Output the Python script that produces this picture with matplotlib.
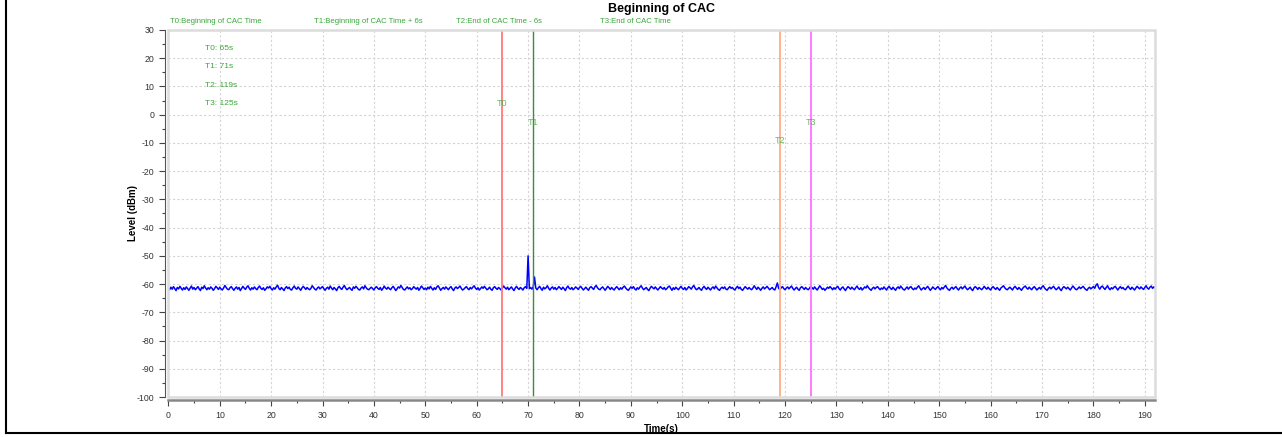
import numpy as np
import matplotlib
matplotlib.use('Agg')
import matplotlib.pyplot as plt
import matplotlib.transforms as mtransforms
from matplotlib.lines import Line2D
from matplotlib.patches import Rectangle

plt.rcParams['font.family'] = ['Liberation Sans', 'DejaVu Sans']
plt.rcParams['axes.unicode_minus'] = False

# level trace (dBm), one sample every 0.25 s, rows of 10 s
sample_step = 0.25
level = [
    -61.4, -62.0, -61.1, -61.8, -60.9, -61.6, -62.3, -61.2, -61.7, -60.8, -61.5, -62.1, -61.3, -61.9, -61.0, -61.6, -62.2, -61.4, -60.7, -61.8,
    -61.2, -62.0, -61.5, -60.9, -61.7, -62.3, -61.1, -61.6, -60.6, -61.4, -62.0, -61.3, -61.8, -61.0, -61.5, -62.2, -61.6, -60.8, -61.3, -61.9,
    -61.1, -61.7, -62.1, -61.4, -60.5, -61.2, -61.8, -62.0, -61.3, -60.9, -61.6, -62.2, -61.5, -61.0, -61.8, -61.2, -62.3, -61.6, -60.8, -61.4,
    -61.9, -61.1, -60.6, -61.5, -62.1, -61.3, -61.8, -61.0, -61.6, -62.0, -61.2, -60.7, -61.5, -61.9, -61.3, -62.2, -61.7, -61.0, -61.4, -60.8,
    -61.6, -62.1, -61.3, -61.8, -61.0, -60.4, -61.5, -62.0, -61.2, -61.7, -62.3, -61.4, -60.9, -61.6, -61.1, -61.9, -62.1, -61.3, -60.7, -61.5,
    -61.8, -61.0, -61.6, -62.2, -61.4, -60.8, -61.3, -61.9, -61.2, -61.7, -62.0, -61.5, -60.6, -61.2, -61.8, -62.1, -61.4, -61.0, -61.7, -61.3,
    -60.9, -61.6, -62.2, -61.5, -61.1, -61.8, -60.7, -61.4, -62.0, -61.2, -61.7, -62.3, -61.3, -60.8, -61.5, -61.9, -61.1, -60.5, -61.4, -62.0,
    -61.6, -61.2, -61.8, -62.2, -61.0, -61.5, -60.8, -61.3, -61.9, -62.1, -61.4, -61.0, -61.7, -60.6, -61.3, -61.8, -62.0, -61.5, -61.1, -61.6,
    -62.1, -61.3, -60.9, -61.5, -61.9, -61.2, -62.2, -61.6, -60.7, -61.4, -61.8, -61.1, -61.6, -62.0, -61.3, -60.8, -61.5, -62.3, -61.7, -61.0,
    -61.4, -60.5, -61.2, -61.9, -62.1, -61.5, -61.0, -61.7, -61.3, -62.0, -61.6, -60.9, -61.4, -61.8, -61.2, -62.2, -61.5, -60.7, -61.3, -61.9,
    -61.4, -62.0, -61.1, -61.7, -60.8, -61.5, -62.1, -61.3, -61.9, -61.0, -60.6, -61.4, -62.2, -61.6, -61.2, -61.8, -61.0, -61.5, -62.0, -61.3,
    -60.9, -61.7, -62.3, -61.4, -61.0, -61.6, -61.2, -60.7, -61.5, -62.1, -61.8, -61.3, -60.9, -61.6, -62.0, -61.2, -61.7, -61.1, -60.6, -61.4,
    -61.9, -61.3, -62.1, -61.6, -61.0, -61.5, -60.8, -61.4, -62.0, -61.7, -61.1, -61.8, -62.2, -61.3, -60.9, -61.5, -61.9, -61.2, -61.6, -62.1,
    -61.4, -60.7, -61.3, -61.8, -61.1, -62.0, -61.5, -61.0, -61.7, -62.3, -61.4, -60.8, -61.5, -61.9, -61.2, -61.6, -62.1, -61.3, -60.9, -61.5,
    -50.0, -61.6, -61.2, -61.8, -61.0, -57.5, -61.4, -62.0, -61.3, -60.8, -61.6, -62.2, -61.1, -61.7, -61.3, -60.6, -61.5, -62.1, -61.4, -61.0,
    -61.8, -61.2, -62.0, -61.5, -60.9, -61.4, -61.9, -61.1, -61.6, -62.3, -61.3, -60.7, -61.5, -61.8, -61.2, -62.0, -61.6, -61.0, -61.4, -61.9,
    -61.2, -60.8, -61.5, -62.1, -61.6, -61.1, -61.7, -62.2, -61.3, -60.9, -61.4, -61.9, -61.0, -60.5, -61.3, -61.8, -62.0, -61.4, -61.0, -61.6,
    -62.2, -61.5, -60.8, -61.3, -61.9, -61.2, -61.7, -62.1, -61.4, -60.9, -61.5, -62.0, -61.3, -61.8, -61.1, -60.7, -61.4, -61.9, -62.2, -61.6,
    -61.0, -61.5, -60.9, -61.7, -62.1, -61.3, -61.8, -61.1, -60.6, -61.4, -62.0, -61.6, -61.2, -61.9, -62.3, -61.4, -60.8, -61.3, -61.7, -61.0,
    -61.6, -62.1, -61.5, -60.9, -61.4, -61.8, -61.2, -62.0, -61.6, -61.0, -60.7, -61.5, -62.2, -61.3, -61.9, -61.1, -61.6, -62.0, -61.4, -60.8,
    -61.5, -61.9, -61.2, -62.1, -61.6, -60.9, -61.3, -61.8, -61.0, -60.5, -61.4, -62.0, -61.7, -61.2, -61.8, -62.2, -61.3, -60.8, -61.5, -61.9,
    -61.1, -61.6, -62.1, -61.4, -61.0, -61.7, -60.7, -61.3, -61.9, -62.2, -61.5, -61.1, -61.6, -61.0, -61.8, -62.0, -61.4, -60.9, -61.5, -61.2,
    -61.8, -62.1, -61.3, -60.8, -61.6, -61.1, -61.9, -62.2, -61.5, -60.9, -61.4, -61.8, -61.2, -61.7, -62.0, -61.4, -60.6, -61.3, -61.9, -61.1,
    -61.6, -62.2, -61.5, -61.0, -61.7, -61.3, -60.8, -61.4, -62.0, -61.6, -61.2, -61.8, -62.1, -61.0, -59.6, -61.5, -61.9, -61.3, -60.9, -61.6,
    -62.0, -61.4, -61.0, -61.7, -61.2, -60.7, -61.5, -62.1, -61.6, -61.1, -61.8, -62.2, -61.3, -60.9, -61.4, -61.9, -61.2, -61.7, -62.0, -61.5,
    -60.8, -61.3, -61.8, -61.0, -61.6, -62.1, -61.4, -60.6, -61.2, -61.9, -61.5, -62.2, -61.7, -61.1, -61.5, -60.9, -61.4, -62.0, -61.3, -61.8,
    -61.2, -60.8, -61.6, -62.1, -61.4, -61.0, -61.7, -62.3, -61.5, -60.9, -61.3, -61.8, -61.1, -61.6, -62.0, -61.3, -60.7, -61.5, -61.9, -61.2,
    -62.1, -61.6, -61.0, -61.4, -60.6, -61.3, -61.8, -62.2, -61.5, -61.1, -61.7, -61.2, -60.9, -61.5, -62.0, -61.4, -61.8, -61.0, -61.6, -62.1,
    -61.3, -60.8, -61.5, -61.9, -61.1, -61.7, -62.2, -61.4, -61.0, -61.6, -60.7, -61.3, -61.9, -62.1, -61.5, -61.0, -61.8, -61.2, -60.9, -61.6,
    -62.0, -61.4, -61.8, -61.1, -60.6, -61.4, -62.1, -61.6, -61.2, -61.9, -61.3, -60.8, -61.5, -62.2, -61.7, -61.0, -61.5, -61.9, -61.3, -60.9,
    -61.6, -62.0, -61.2, -61.7, -61.0, -60.5, -61.4, -61.9, -62.2, -61.5, -61.1, -61.8, -61.3, -60.9, -61.6, -62.1, -61.4, -61.0, -61.7, -61.2,
    -60.7, -61.5, -62.0, -61.6, -61.1, -61.8, -62.3, -61.4, -60.9, -61.3, -61.9, -61.2, -61.6, -62.0, -61.5, -60.8, -61.4, -61.8, -61.1, -61.7,
    -62.1, -61.3, -60.9, -61.5, -61.9, -61.2, -61.7, -62.2, -61.4, -61.0, -60.6, -61.3, -61.8, -62.0, -61.5, -61.1, -61.6, -62.1, -61.3, -60.8,
    -61.4, -61.9, -61.2, -61.7, -62.2, -61.5, -61.0, -60.7, -61.4, -61.8, -61.1, -61.6, -62.0, -61.3, -60.9, -61.5, -62.1, -61.6, -61.2, -61.8,
    -61.0, -60.6, -61.4, -61.9, -62.2, -61.5, -61.1, -61.7, -61.2, -60.8, -61.5, -62.0, -61.6, -61.0, -61.8, -62.3, -61.4, -60.9, -61.3, -61.7,
    -61.1, -61.6, -62.1, -61.4, -60.7, -61.2, -61.8, -62.0, -61.5, -61.0, -61.6, -61.2, -60.8, -61.4, -61.9, -62.2, -61.5, -61.1, -61.7, -61.3,
    -60.9, -61.5, -60.4, -59.9, -61.2, -61.8, -61.0, -60.7, -61.4, -61.9, -61.2, -60.6, -61.5, -62.0, -61.3, -61.7, -61.1, -60.8, -61.5, -62.1,
    -61.4, -60.9, -61.6, -61.2, -61.8, -62.0, -61.3, -60.7, -61.4, -61.9, -61.1, -61.6, -62.1, -61.4, -60.8, -61.3, -61.7, -61.0, -61.5, -61.9,
    -61.2, -60.6, -61.4, -61.8, -61.1, -60.7, -61.5, -61.0, -61.3,
]
time_s = np.arange(len(level)) * sample_step

# markers
marker_names = ['T0', 'T1', 'T2', 'T3']
marker_times = [65, 71, 119, 125]
marker_desc = ['T0:Beginning of CAC Time', 'T1:Beginning of CAC Time + 6s',
               'T2:End of CAC Time - 6s', 'T3:End of CAC Time']
marker_colors = ['#ff7a7a', '#3c8c3c', '#ffab85', '#ff70ff']
marker_widths = [1.3, 1.0, 1.3, 1.3]
marker_label_y = [4, -2.6, -9, -2.6]
desc_x = [9.3, 38.9, 64.3, 90.8]

green_txt = '#3aa83a'

fig = plt.figure(figsize=(12.82, 4.37), dpi=100)
ax = fig.add_axes([0.1313, 0.0915, 0.7697, 0.8399])

ax.plot(time_s, level, color='#0000ff', lw=1.1, zorder=3)

for name, t, c, w, ly in zip(marker_names, marker_times, marker_colors, marker_widths, marker_label_y):
    ax.axvline(t, color=c, lw=w, zorder=4)
    ax.text(t, ly, name, color=green_txt, fontsize=6.5, ha='center', va='center', alpha=0.8, zorder=5)

for i in range(4):
    ax.text(7.2, 23.6 - i * 6.55, '%s: %ds' % (marker_names[i], marker_times[i]),
            color=green_txt, fontsize=6, ha='left', va='center')

trans = mtransforms.blended_transform_factory(ax.transData, ax.transAxes)
for d, x in zip(marker_desc, desc_x):
    ax.text(x, 1.024, d, transform=trans, color=green_txt, fontsize=5.6, ha='center', va='center')

ax.set_xlim(0, 192)
ax.set_ylim(-100, 30)
ax.set_xticks(np.arange(0, 191, 10))
ax.set_xticks(np.arange(0, 192, 5), minor=True)
ax.set_yticks(np.arange(-100, 31, 10))
ax.set_yticks(np.arange(-100, 31, 5), minor=True)
ax.xaxis.grid(True, which='major', color='#d4d4d4', ls=(0, (2, 2)), lw=0.8)
ax.yaxis.grid(True, which='major', color='#d4d4d4', ls=(0, (2, 2)), lw=0.8)
ax.tick_params(axis='both', which='major', labelsize=6.3, length=4, width=0.8, color='#444444', labelcolor='#333333')
ax.tick_params(axis='both', which='minor', length=2.5, width=0.8, color='#444444')

for s in ['top', 'right']:
    ax.spines[s].set_visible(False)
ax.spines['left'].set_position(('outward', 2.5))
ax.spines['left'].set_color('#555555')
ax.spines['left'].set_linewidth(0.8)
ax.spines['bottom'].set_position(('outward', 2.5))
ax.spines['bottom'].set_color('#888888')
ax.spines['bottom'].set_linewidth(1.8)
ax.add_patch(Rectangle((0, 0), 1, 1, transform=ax.transAxes, fill=False,
                       edgecolor='#dcdcdc', lw=1.8, zorder=6, clip_on=False))

ax.set_title('Beginning of CAC', fontsize=9, fontweight='bold', pad=13)
ax.set_xlabel('Time(s)', fontsize=7, fontweight='bold', labelpad=3)
ax.set_ylabel('Level (dBm)', fontsize=7, fontweight='bold', labelpad=-1)

# outer frame (left and bottom edges visible)
fig.add_artist(Line2D([0.005, 0.005], [0.009, 1.0], transform=fig.transFigure, color='black', lw=1.5))
fig.add_artist(Line2D([0.005, 1.0], [0.009, 0.009], transform=fig.transFigure, color='black', lw=1.5))

fig.savefig('out.png', dpi=100)
